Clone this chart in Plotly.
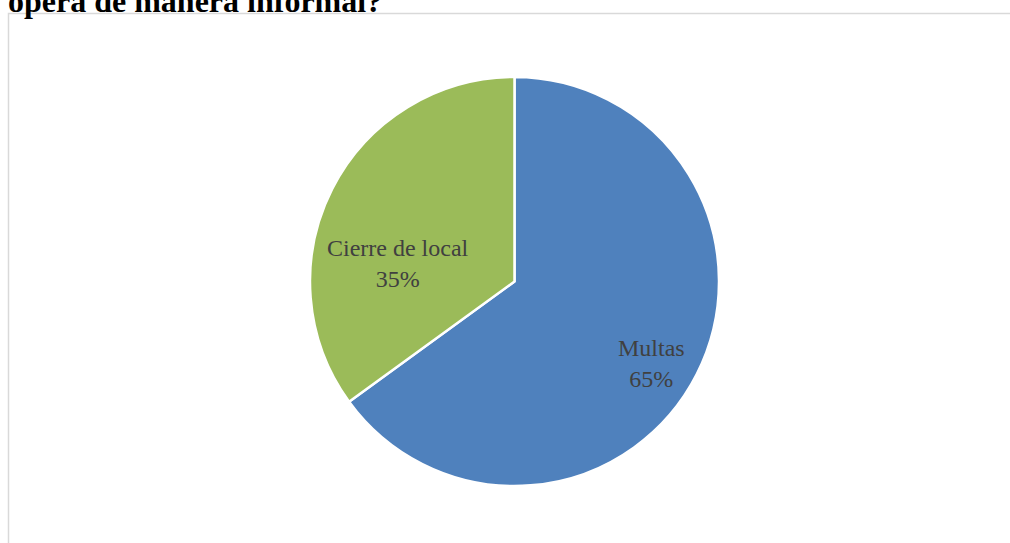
import plotly.graph_objects as go

labels = ["Multas", "Cierre de local"]
values = [65, 35]
colors = ["#4F81BD", "#9BBB59"]
title_text = "opera de manera informal?"

W, H = 1010, 543
# pie geometry in pixels (center / radius)
CX, CY, R = 514.5, 281.5, 204.5
# label centres, offsets from pie centre in pixels
label_offsets = [(136.5, 82.0), (-116.5, -18.5)]

fig = go.Figure(go.Pie(
    labels=labels,
    values=values,
    sort=False,
    direction="clockwise",
    rotation=0,
    marker=dict(colors=colors, line=dict(color="white", width=2.5)),
    textinfo="none",
    showlegend=False,
    hoverinfo="skip",
    domain=dict(x=[(CX - R) / W, (CX + R) / W], y=[(H - CY - R) / H, (H - CY + R) / H]),
))

total = sum(values)
for lab, val, (dx, dy) in zip(labels, values, label_offsets):
    fig.add_annotation(text=f"{lab}<br>{round(100 * val / total)}%",
                       xref="paper", yref="paper",
                       x=(CX + dx) / W, y=(H - CY - dy) / H,
                       xanchor="center", yanchor="middle", showarrow=False,
                       font=dict(family="Liberation Serif", size=24, color="#404040"))

fig.add_shape(type="rect", xref="paper", yref="paper",
              x0=8.5 / W, x1=1.01, y0=-0.01, y1=(H - 13.5) / H,
              line=dict(color="#D9D9D9", width=1.5), fillcolor="rgba(0,0,0,0)")

fig.add_annotation(text="<b>" + title_text + "</b>", xref="paper", yref="paper",
                   x=6 / W, y=(H + 19) / H, xanchor="left", yanchor="top",
                   showarrow=False,
                   font=dict(family="Liberation Serif", size=32, color="#000000"))

fig.update_layout(width=W, height=H, margin=dict(l=0, r=0, t=0, b=0),
                  paper_bgcolor="white", plot_bgcolor="white")

fig.write_html("out.html", config={"displayModeBar": False},
               post_script="document.body.style.margin='0px';document.body.style.overflow='hidden';")
